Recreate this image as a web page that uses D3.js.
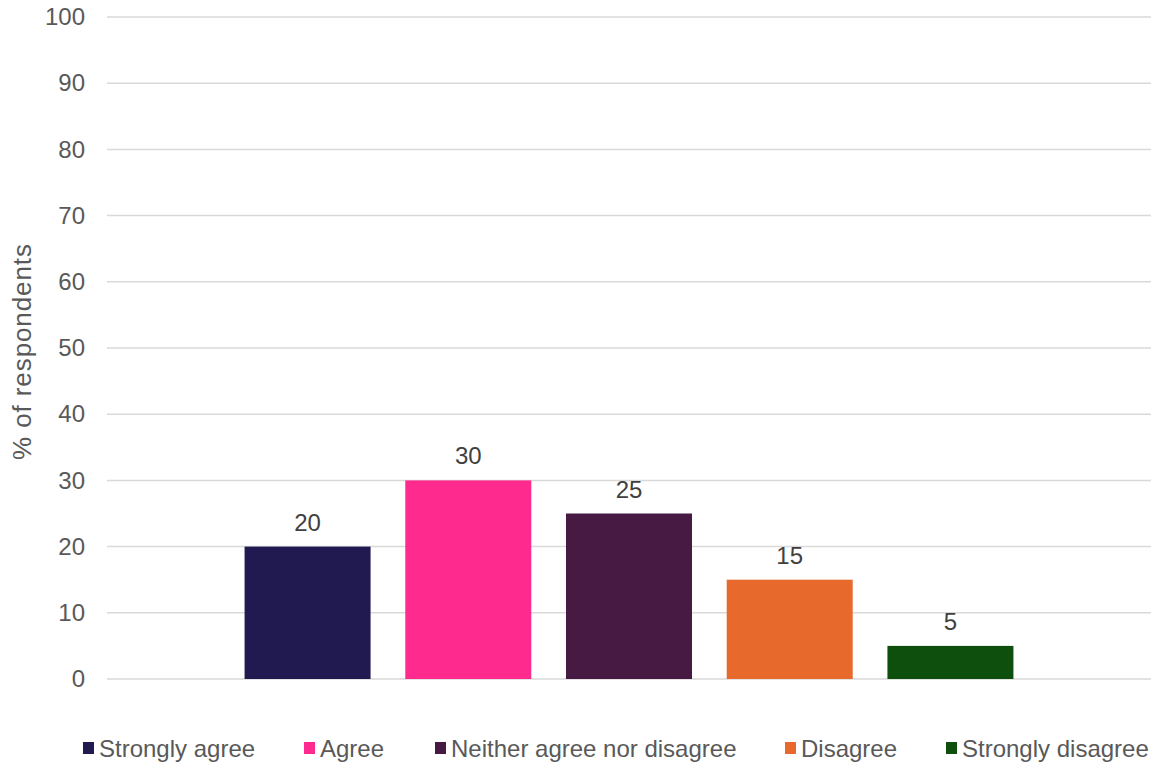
<!DOCTYPE html>
<html>
<head>
<meta charset="utf-8">
<script src="https://cdn.jsdelivr.net/npm/d3@7"></script>
<style>
  html, body { margin: 0; padding: 0; background: #ffffff; }
  svg { display: block; font-family: "Liberation Sans", Arial, sans-serif; }
</style>
</head>
<body>
<svg id="chart" width="1151" height="764"></svg>
<script>
// Survey responses, share of respondents per answer
const categories = ["Strongly agree", "Agree", "Neither agree nor disagree", "Disagree", "Strongly disagree"];
const values = [20, 30, 25, 15, 5];
const colors = ["#201a50", "#ff2a8e", "#461a42", "#e8692c", "#0e4f0d"];
const yTicks = [0, 10, 20, 30, 40, 50, 60, 70, 80, 90, 100];
const yTitle = "% of respondents";

const svg = d3.select("#chart");
const plot = { left: 107, right: 1151, top: 17, bottom: 679 };
const fontSize = "24px";

const x = d3.scaleBand()
  .domain(categories)
  .range([plot.left, plot.right])
  .paddingInner(0.216)
  .paddingOuter(0.856);

const y = d3.scaleLinear()
  .domain([0, 100])
  .range([plot.bottom, plot.top]);

// Horizontal gridlines
svg.append("g")
  .selectAll("line")
  .data(yTicks)
  .join("line")
  .attr("x1", plot.left)
  .attr("x2", plot.right)
  .attr("y1", d => y(d))
  .attr("y2", d => y(d))
  .attr("stroke", "#d9d9d9")
  .attr("stroke-width", 1.5);

// Y axis tick labels
const yAxis = d3.axisLeft(y).tickValues(yTicks).tickSize(0).tickPadding(0);
const yg = svg.append("g")
  .attr("transform", `translate(${plot.left - 22},0)`)
  .call(yAxis);
yg.select(".domain").remove();
yg.selectAll("text")
  .attr("fill", "#595959")
  .style("font-size", fontSize)
  .style("font-family", "'Liberation Sans', Arial, sans-serif");

// Y axis title
svg.append("text")
  .attr("transform", `translate(31,352) rotate(-90)`)
  .attr("text-anchor", "middle")
  .attr("fill", "#595959")
  .attr("textLength", 216)
  .attr("lengthAdjust", "spacing")
  .style("font-size", "26px")
  .text(yTitle);

// Bars
svg.append("g")
  .selectAll("rect")
  .data(categories)
  .join("rect")
  .attr("x", d => x(d))
  .attr("width", x.bandwidth())
  .attr("y", (d, i) => y(values[i]))
  .attr("height", (d, i) => y(0) - y(values[i]))
  .attr("fill", (d, i) => colors[i]);

// Value labels
svg.append("g")
  .selectAll("text")
  .data(categories)
  .join("text")
  .attr("x", d => x(d) + x.bandwidth() / 2)
  .attr("y", (d, i) => y(values[i]) - 16)
  .attr("text-anchor", "middle")
  .attr("fill", "#404040")
  .style("font-size", fontSize)
  .text((d, i) => values[i]);

// Legend
const legendX = [83, 304, 435, 785, 946];
const legend = svg.append("g");
const items = legend.selectAll("g")
  .data(categories)
  .join("g")
  .attr("transform", (d, i) => `translate(${legendX[i]},748)`);
items.append("rect")
  .attr("x", 0)
  .attr("y", -6)
  .attr("width", 11)
  .attr("height", 12)
  .attr("fill", (d, i) => colors[i]);
items.append("text")
  .attr("x", 16)
  .attr("y", 9)
  .attr("fill", "#595959")
  .style("font-size", fontSize)
  .text(d => d);
</script>
</body>
</html>
